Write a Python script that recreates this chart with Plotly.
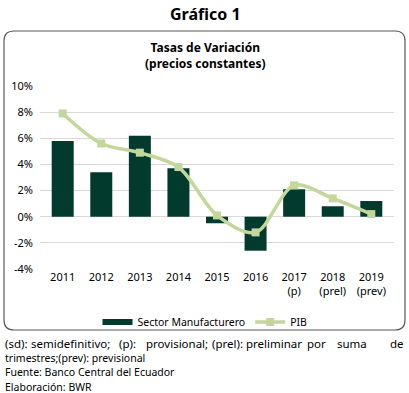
import plotly.graph_objects as go

categories = ["2011", "2012", "2013", "2014", "2015", "2016", "2017<br>(p)", "2018<br>(prel)", "2019<br>(prev)"]
manufactura = [5.8, 3.4, 6.2, 3.7, -0.5, -2.6, 2.1, 0.8, 1.2]
pib = [7.9, 5.6, 4.9, 3.8, 0.1, -1.2, 2.4, 1.4, 0.2]
tick_vals = [-4, -2, 0, 2, 4, 6, 8, 10]
tick_text = ["-4%", "-2%", "0%", "2%", "4%", "6%", "8%", "10%"]

W, H = 409, 393
L, R, T, B = 40, 394, 86, 269
FONT = "Noto Sans"
BAR_COLOR = "#023a2e"
LINE_COLOR = "#c4d79b"


def px(x):
    return (x - L) / (R - L)


def py(y):
    return (B - y) / (B - T)


fig = go.Figure()
fig.add_trace(go.Bar(
    x=categories, y=manufactura, name="Sector Manufacturero",
    marker=dict(color=BAR_COLOR, line=dict(width=0)), showlegend=False,
))
# legend entry drawn as a wide bar-like line
fig.add_trace(go.Scatter(
    x=[None], y=[None], name="Sector Manufacturero", mode="lines",
    line=dict(color=BAR_COLOR, width=6), showlegend=True,
))
fig.add_trace(go.Scatter(
    x=categories, y=pib, name="PIB", mode="lines+markers",
    line=dict(color=LINE_COLOR, width=3.5, shape="spline", smoothing=0.9),
    marker=dict(symbol="square", size=8, color=LINE_COLOR),
))

# rounded chart box
x0, x1, y0, y1, r = 4, 405, 31, 330, 10
rx = r / (R - L)
ry = r / (B - T)
X0, X1, Y0, Y1 = px(x0), px(x1), py(y1), py(y0)
path = (f"M {X0+rx},{Y1} L {X1-rx},{Y1} Q {X1},{Y1} {X1},{Y1-ry} "
        f"L {X1},{Y0+ry} Q {X1},{Y0} {X1-rx},{Y0} L {X0+rx},{Y0} "
        f"Q {X0},{Y0} {X0},{Y0+ry} L {X0},{Y1-ry} Q {X0},{Y1} {X0+rx},{Y1} Z")
fig.add_shape(type="path", path=path, xref="paper", yref="paper",
              line=dict(color="#595959", width=1.2), layer="below")

ann = []
ann.append(dict(text="<b>Gráfico 1</b>", x=px(205), y=py(14), xref="paper", yref="paper",
                showarrow=False, font=dict(family=FONT, size=16, color="#000"),
                xanchor="center", yanchor="middle"))
ann.append(dict(text="<b>Tasas de Variación<br>(precios constantes)</b>", x=px(205), y=py(55),
                xref="paper", yref="paper", showarrow=False,
                font=dict(family=FONT, size=12, color="#000"),
                xanchor="center", yanchor="middle"))

FN = 11.5
FN2 = 10.5
words = [("(sd):", 4), ("semidefinitivo;", 30), ("(p):", 118), ("provisional;", 145),
         ("(prel):", 211), ("preliminar", 245), ("por", 306), ("suma", 336), ("de", 405)]
for i, (w, x) in enumerate(words):
    anchor = "right" if i == len(words) - 1 else "left"
    ann.append(dict(text=w, x=px(x), y=py(343), xref="paper", yref="paper", showarrow=False,
                    font=dict(family=FONT, size=FN, color="#000"), borderpad=0,
                    xanchor=anchor, yanchor="middle"))
for txt, y in [("trimestres;(prev): previsional", 358), ("Fuente: Banco Central del Ecuador", 372.3),
               ("Elaboración: BWR", 386.6)]:
    ann.append(dict(text=txt, x=px(4), y=py(y), xref="paper", yref="paper", showarrow=False,
                    font=dict(family=FONT, size=FN2, color="#000"), borderpad=0,
                    xanchor="left", yanchor="middle"))

fig.update_layout(
    width=W, height=H,
    margin=dict(l=L, r=W - R, t=T, b=H - B),
    paper_bgcolor="white", plot_bgcolor="white",
    bargap=0.43,
    showlegend=True,
    legend=dict(orientation="h", x=px(205), y=py(322), xanchor="center", yanchor="middle",
                font=dict(family=FONT, size=10.5, color="#000"), traceorder="normal",
                itemwidth=30, bgcolor="rgba(0,0,0,0)"),
    annotations=ann,
    font=dict(family=FONT, color="#000"),
)
fig.update_xaxes(showgrid=False, showline=False, zeroline=False, ticks="",
                 tickfont=dict(family=FONT, size=11, color="#000"))
fig.update_yaxes(range=[-4, 10], tickvals=tick_vals, ticktext=tick_text,
                 showgrid=True, gridcolor="#d9d9d9", gridwidth=1, zeroline=True,
                 zerolinecolor="#d9d9d9", zerolinewidth=1, showline=False, ticks="",
                 tickfont=dict(family=FONT, size=11, color="#000"), ticklabelstandoff=6)

fig.write_html("out.html", config={"displayModeBar": False},
               post_script="document.body.style.margin='0';document.body.style.overflow='hidden';")
